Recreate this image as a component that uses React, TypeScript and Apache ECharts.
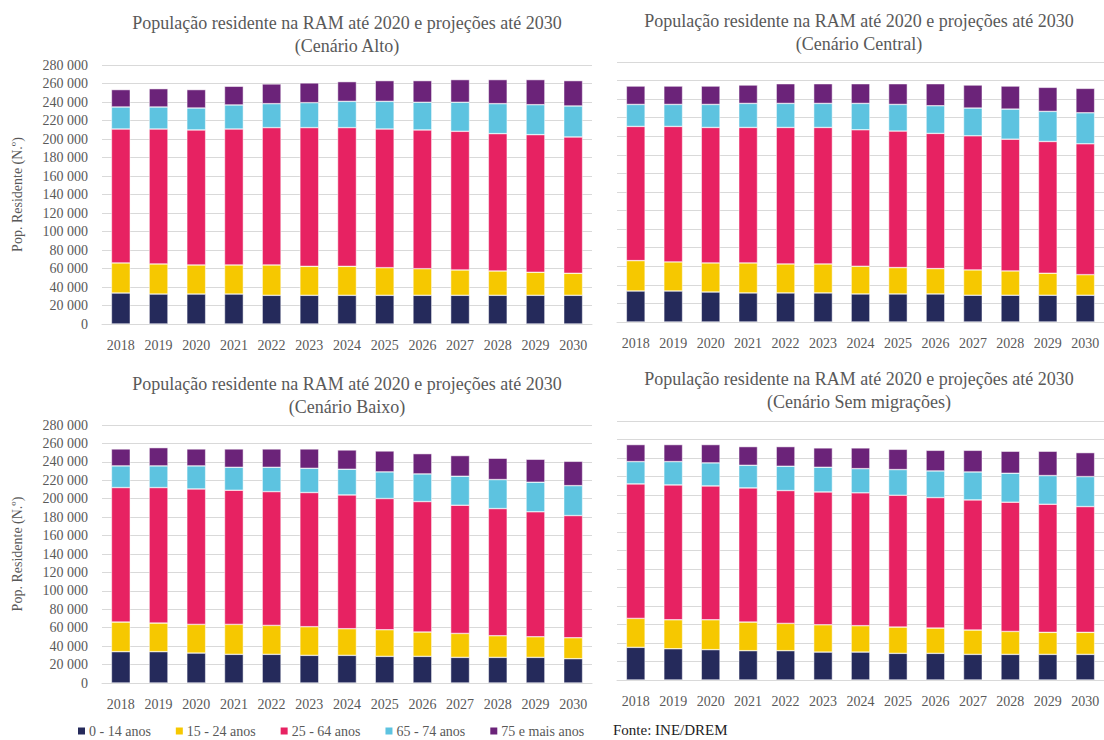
import React, { useEffect, useRef } from "react";
import * as echarts from "echarts";

const years = ["2018", "2019", "2020", "2021", "2022", "2023", "2024", "2025", "2026", "2027", "2028", "2029", "2030"];
const groups = ["0 - 14 anos", "15 - 24 anos", "25 - 64 anos", "65 - 74 anos", "75 e mais anos"];
const colors = ["#252A5B", "#F6C800", "#E72262", "#5DC3E0", "#6B2379"];

const titles = [
  "População residente na RAM até 2020 e projeções até 2030\n(Cenário Alto)",
  "População residente na RAM até 2020 e projeções até 2030\n(Cenário Central)",
  "População residente na RAM até 2020 e projeções até 2030\n(Cenário Baixo)",
  "População residente na RAM até 2020 e projeções até 2030\n(Cenário Sem migrações)",
];

// Cenário Alto
const alto014 = [33500, 32400, 32400, 32400, 31000, 31000, 31000, 31000, 31000, 31000, 31000, 31000, 31000];
const alto1524 = [32500, 32500, 31400, 31400, 32800, 31300, 31300, 29900, 28800, 27400, 26300, 24900, 23800];
const alto2564 = [144800, 145900, 146000, 147000, 148500, 150000, 150000, 149900, 150000, 149900, 148500, 148800, 147400];
const alto6574 = [23800, 23800, 23700, 26000, 25900, 27000, 28400, 29900, 29900, 31400, 32400, 32400, 33500];
const alto75 = [18800, 19800, 19900, 20200, 21300, 21300, 21300, 22400, 23400, 24500, 26000, 27100, 27400];

// Cenário Central
const central014 = [33400, 33400, 32300, 31300, 31300, 31300, 30200, 30200, 30200, 28800, 28800, 28800, 28800];
const central1524 = [32700, 31300, 31300, 32300, 31200, 31200, 29800, 28400, 27300, 27300, 26200, 23700, 22200];
const central2564 = [144500, 145900, 145900, 145900, 147000, 147000, 147000, 147000, 145600, 144400, 141900, 141900, 140900];
const central6574 = [23700, 23700, 24800, 25900, 25900, 25900, 28400, 28700, 29800, 29900, 32400, 32400, 33400];
const central75 = [19800, 19800, 19800, 19800, 21200, 21200, 21200, 22300, 23700, 24800, 24800, 25900, 26300];

// Cenário Baixo
const baixo014 = [34000, 34000, 32500, 31100, 31100, 30000, 30000, 28900, 28900, 27800, 27800, 27800, 26400];
const baixo1524 = [32100, 31000, 31100, 32500, 31400, 31100, 28900, 28900, 26400, 26000, 23500, 22400, 22700];
const baixo2564 = [146000, 147100, 147000, 145600, 145200, 145600, 145200, 142400, 141600, 139100, 138000, 135600, 132600];
const baixo6574 = [23500, 23500, 25000, 24900, 26400, 26300, 27900, 28900, 30000, 31500, 31500, 32100, 32500];
const baixo75 = [18400, 19800, 18400, 19900, 19900, 21000, 20900, 22700, 22000, 22400, 23100, 24900, 26400];

// Cenário Sem migrações
const semmig014 = [35300, 33800, 32800, 31700, 31700, 30200, 30200, 28800, 28800, 27700, 27700, 27700, 27700];
const semmig1524 = [31300, 31300, 32300, 30900, 29500, 29500, 28500, 28400, 27300, 26300, 24800, 23800, 23800];
const semmig2564 = [145400, 145800, 144700, 145100, 143600, 143600, 143600, 142500, 141100, 140700, 139700, 138500, 136000];
const semmig6574 = [24100, 25200, 24900, 24400, 26300, 26700, 26200, 27800, 28800, 30200, 31300, 31000, 32400];
const semmig75 = [18400, 18400, 19800, 20200, 21200, 20900, 22400, 21900, 22300, 23400, 23800, 26300, 25900];

const scenarios = [
  [alto014, alto1524, alto2564, alto6574, alto75],
  [central014, central1524, central2564, central6574, central75],
  [baixo014, baixo1524, baixo2564, baixo6574, baixo75],
  [semmig014, semmig1524, semmig2564, semmig6574, semmig75],
];

const FONT = "Liberation Serif";
const TXT = "#595959";
const GRIDC = "#D9D9D9";

const gridBoxes = [
  { left: 102, top: 65, width: 490, height: 259 },
  { left: 617, top: 62, width: 490, height: 260 },
  { left: 102, top: 425, width: 490, height: 258 },
  { left: 617, top: 421, width: 490, height: 259 },
];
const titlePos = [
  { x: 347, y: 11 },
  { x: 859, y: 9 },
  { x: 347, y: 372 },
  { x: 859, y: 367 },
];

function fmt(v: number) {
  if (v === 0) return "0";
  const s = String(v);
  return s.slice(0, s.length - 3) + " " + s.slice(s.length - 3);
}

export default function App() {
  const ref = useRef<HTMLDivElement>(null);
  useEffect(() => {
    if (!ref.current) return;
    const chart = echarts.init(ref.current, undefined, { renderer: "svg" });
    const grid = gridBoxes.map((g) => ({ ...g, containLabel: false }));
    const xAxis = gridBoxes.map((_, i) => ({
      type: "category",
      gridIndex: i,
      data: years,
      axisLine: { show: true, lineStyle: { color: GRIDC, width: 1 } },
      axisTick: { show: false },
      axisLabel: { color: TXT, fontFamily: FONT, fontSize: 14, margin: 14 },
    }));
    const yAxis = gridBoxes.map((_, i) => ({
      type: "value",
      gridIndex: i,
      min: 0,
      max: 280000,
      interval: 20000,
      name: i % 2 === 0 ? "Pop. Residente (N.º)" : "",
      nameLocation: "middle",
      nameGap: 78,
      nameTextStyle: { color: TXT, fontFamily: FONT, fontSize: 14 },
      axisLine: { show: false },
      axisTick: { show: false },
      splitLine: { show: true, lineStyle: { color: GRIDC, width: 1 } },
      axisLabel: {
        show: i % 2 === 0,
        color: TXT,
        fontFamily: FONT,
        fontSize: 14,
        margin: 14,
        formatter: (v: number) => fmt(v),
      },
    }));
    const series: any[] = [];
    scenarios.forEach((sc, gi) => {
      sc.forEach((vals, si) => {
        series.push({
          type: "bar",
          name: groups[si],
          xAxisIndex: gi,
          yAxisIndex: gi,
          stack: "s" + gi,
          data: vals,
          barWidth: "50%",
          itemStyle: { color: colors[si], borderColor: "#ffffff", borderWidth: 0.5 },
        });
      });
    });
    const graphic: any[] = titles.map((t, i) => ({
      type: "text",
      x: titlePos[i].x,
      y: titlePos[i].y,
      style: {
        text: t,
        fill: TXT,
        font: `18px 'Liberation Serif', serif`,
        textAlign: "center",
        lineHeight: 23,
      },
    }));
    graphic.push({
      type: "text",
      x: 613,
      y: 722,
      style: { text: "Fonte: INE/DREM", fill: "#222222", font: `15px 'Liberation Serif', serif` },
    });
    chart.setOption({
      animation: false,
      backgroundColor: "#ffffff",
      textStyle: { fontFamily: FONT },
      grid,
      xAxis,
      yAxis,
      series,
      graphic,
      legend: {
        left: 76,
        top: 723,
        padding: 0,
        itemWidth: 9,
        itemHeight: 9,
        itemGap: 23,
        icon: "rect",
        data: groups,
        textStyle: { color: TXT, fontFamily: FONT, fontSize: 14, lineHeight: 16, padding: [0, 0, 0, -2] },
      },
    });
    return () => chart.dispose();
  }, []);
  return (
    <div
      ref={ref}
      style={{ position: "absolute", left: 0, top: 0, width: 1104, height: 740 }}
    />
  );
}
